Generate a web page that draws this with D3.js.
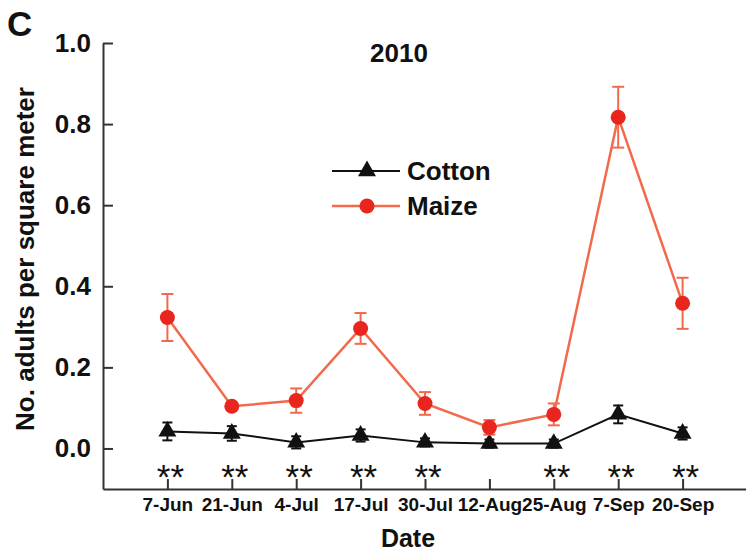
<!DOCTYPE html>
<html>
<head>
<meta charset="utf-8">
<script src="https://cdn.jsdelivr.net/npm/d3@7"></script>
<style>
html,body{margin:0;padding:0;background:#fff;}
svg{display:block;}
text{font-family:"Liberation Sans",Arial,sans-serif;font-weight:bold;fill:#111;}
</style>
</head>
<body>
<script>
const dates = ["7-Jun","21-Jun","4-Jul","17-Jul","30-Jul","12-Aug","25-Aug","7-Sep","20-Sep"];
const cottonMean = [0.042,0.037,0.015,0.032,0.015,0.012,0.012,0.084,0.037];
const cottonErr  = [0.022,0.018,0.015,0.015,0.010,0.010,0.010,0.022,0.015];
const maizeMean  = [0.323,0.104,0.118,0.296,0.111,0.052,0.084,0.817,0.358];
const maizeErr   = [0.058,0.008,0.030,0.038,0.028,0.018,0.027,0.075,0.063];
const signif     = ["**","**","**","**","**","","**","**","**"];
const yTicks = [0,0.2,0.4,0.6,0.8,1.0];

const W = 746, H = 552;
const svg = d3.select("body").append("svg").attr("width",W).attr("height",H);

const x = d3.scaleLinear().domain([-1,9]).range([103,747]);
const y = d3.scaleLinear().domain([-0.1,1.0]).range([489,43]);

const black = "#111", lineRed = "#f26a4c", dotRed = "#e8261d";

// Y axis
const yAxis = d3.axisLeft(y).tickValues(yTicks).tickFormat(d3.format(".1f"))
  .tickSizeInner(-10).tickSizeOuter(0).tickPadding(12);
const gy = svg.append("g").attr("transform","translate(103,0)").call(yAxis);
gy.selectAll("path,line").attr("stroke","#333").attr("stroke-width",2);
gy.selectAll("text").style("font-size","26px").attr("fill","#111");

// X axis
const xAxis = d3.axisBottom(x).tickValues(d3.range(0,10))
  .tickFormat(i => dates[i] || "").tickSizeInner(-10).tickSizeOuter(0).tickPadding(9);
const gx = svg.append("g").attr("transform","translate(0,489)").call(xAxis);
gx.selectAll("path,line").attr("stroke","#333").attr("stroke-width",2);
gx.selectAll("text").style("font-size","19px").attr("fill","#111");

// Significance stars
svg.append("g").selectAll("text").data(signif).join("text")
  .attr("x",(d,i)=>x(i)+3).attr("y",489)
  .attr("text-anchor","middle").style("font-size","35px").style("font-weight","normal")
  .text(d=>d);

const line = d3.line().x((d,i)=>x(i)).y(d=>y(d));

// Cotton
svg.append("path").datum(cottonMean).attr("d",line)
  .attr("fill","none").attr("stroke",black).attr("stroke-width",2);
const ce = svg.append("g");
cottonMean.forEach((m,i)=>{
  const e = cottonErr[i];
  ce.append("line").attr("x1",x(i)).attr("x2",x(i)).attr("y1",y(m-e)).attr("y2",y(m+e))
    .attr("stroke",black).attr("stroke-width",2);
  [m-e,m+e].forEach(v=>ce.append("line").attr("x1",x(i)-5).attr("x2",x(i)+5)
    .attr("y1",y(v)).attr("y2",y(v)).attr("stroke",black).attr("stroke-width",2));
});
svg.append("g").selectAll("path").data(cottonMean).join("path")
  .attr("d",d3.symbol(d3.symbolTriangle,140))
  .attr("transform",(d,i)=>`translate(${x(i)},${y(d)})`).attr("fill",black);

// Maize
svg.append("path").datum(maizeMean).attr("d",line)
  .attr("fill","none").attr("stroke",lineRed).attr("stroke-width",2.5);
const me = svg.append("g");
maizeMean.forEach((m,i)=>{
  const e = maizeErr[i];
  me.append("line").attr("x1",x(i)).attr("x2",x(i)).attr("y1",y(m-e)).attr("y2",y(m+e))
    .attr("stroke",lineRed).attr("stroke-width",2);
  [m-e,m+e].forEach(v=>me.append("line").attr("x1",x(i)-6).attr("x2",x(i)+6)
    .attr("y1",y(v)).attr("y2",y(v)).attr("stroke",lineRed).attr("stroke-width",2));
});
svg.append("g").selectAll("circle").data(maizeMean).join("circle")
  .attr("cx",(d,i)=>x(i)).attr("cy",d=>y(d)).attr("r",7.5).attr("fill",dotRed);

// Legend
const leg = svg.append("g");
leg.append("line").attr("x1",332).attr("x2",400).attr("y1",171).attr("y2",171).attr("stroke",black).attr("stroke-width",2);
leg.append("path").attr("d",d3.symbol(d3.symbolTriangle,140)).attr("transform","translate(367,171)").attr("fill",black);
leg.append("text").attr("x",407).attr("y",171).attr("dy","0.35em").style("font-size","26px").text("Cotton");
leg.append("line").attr("x1",332).attr("x2",400).attr("y1",206).attr("y2",206).attr("stroke",lineRed).attr("stroke-width",2.5);
leg.append("circle").attr("cx",367).attr("cy",206).attr("r",7.5).attr("fill",dotRed);
leg.append("text").attr("x",407).attr("y",206).attr("dy","0.35em").style("font-size","26px").text("Maize");

// Titles
svg.append("text").attr("x",399).attr("y",62).attr("text-anchor","middle").style("font-size","26px").text("2010");
svg.append("text").attr("x",7).attr("y",36).style("font-size","35px").text("C");
svg.append("text").attr("x",408).attr("y",547).attr("text-anchor","middle").style("font-size","25px").text("Date");
svg.append("text").attr("transform","translate(34,259) rotate(-90)").attr("text-anchor","middle")
  .style("font-size","26px").text("No. adults per square meter");
</script>
</body>
</html>
